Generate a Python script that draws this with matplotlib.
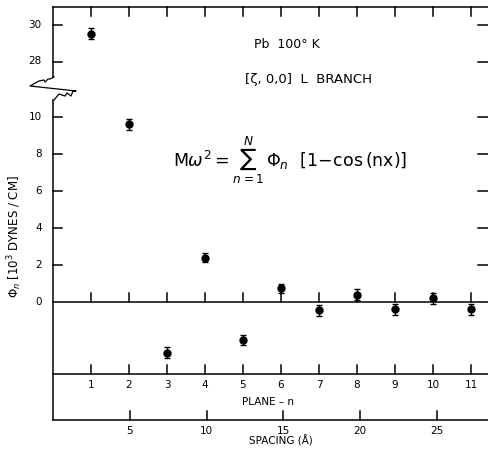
import numpy as np
import matplotlib
matplotlib.use("Agg")
import matplotlib.pyplot as plt

# force constants (units of 10^3 dynes/cm)
planes = np.arange(1, 12)
phi = [29.5, 9.6, -2.75, 2.4, -2.05, 0.75, -0.45, 0.4, -0.4, 0.2, -0.4]
phi_err = [0.3, 0.3, 0.3, 0.25, 0.25, 0.25, 0.3, 0.3, 0.3, 0.3, 0.3]

low_ticks = [0, 2, 4, 6, 8, 10]
high_ticks = [28, 30]
spacing_ticks = [5, 10, 15, 20, 25]
plane_spacing = 2.475   # angstrom per (100) plane in Pb

# broken axis: values above the break are shifted down
shift = 15.0
def yb(v):
    v = np.asarray(v, dtype=float)
    return np.where(v > 20, v - shift, v)

# pixel -> data helper for the decorations
def p2d(px, py):
    return (np.asarray(px) - 53) / 38.0, (302 - np.asarray(py)) / 18.5

fig = plt.figure(figsize=(4.88, 4.49), dpi=100)
ax = fig.add_axes([0, 0, 1, 1])
x0, y0 = p2d(0, 449)
x1, y1 = p2d(488, 0)
ax.set_xlim(x0, x1)
ax.set_ylim(y0, y1)
ax.axis("off")

lw = 1.1
k = "black"
x_axis = 0.0
y_top = p2d(0, 7)[1]
y_plane = p2d(0, 374)[1]
y_space = p2d(0, 420)[1]
y_brk_lo = p2d(0, 100)[1]
y_brk_hi = p2d(0, 77)[1]

# left axis in two pieces
ax.plot([x_axis, x_axis], [y_space, y_brk_lo], color=k, lw=lw)
ax.plot([x_axis, x_axis], [y_brk_hi, y_top], color=k, lw=lw)
# zigzag break
zx, zy = p2d([54, 50, 48, 45, 44, 39, 30, 76, 73, 71, 67, 65, 59, 54],
             [77, 79, 79, 82, 80, 81, 86, 91, 91, 96, 93, 96, 94, 100])
ax.plot(zx, zy, color=k, lw=0.9)

# top border, zero line, plane axis, spacing axis
ax.plot([x_axis, x1], [y_top, y_top], color=k, lw=lw)
ax.plot([x_axis, x1], [0, 0], color=k, lw=lw)
ax.plot([x_axis, x1], [y_plane, y_plane], color=k, lw=lw)
ax.plot([x_axis, x1], [y_space, y_space], color=k, lw=lw)

tick_len = 0.5
for p in planes:
    ax.plot([p, p], [y_top, y_top - tick_len], color=k, lw=lw)
    ax.plot([p, p], [0, tick_len], color=k, lw=lw)
    ax.plot([p, p], [y_plane, y_plane + tick_len], color=k, lw=lw)
    ax.text(p, y_plane - 0.35, str(p), ha="center", va="top", fontsize=7.5)
for s in spacing_ticks:
    xs = s / plane_spacing
    ax.plot([xs, xs], [y_space, y_space + tick_len], color=k, lw=lw)
    ax.text(xs, y_space - 0.35, str(s), ha="center", va="top", fontsize=7.5)

ax.text(5.66, p2d(0, 402)[1], "PLANE \u2013 n", ha="center", va="center", fontsize=7.5)
ax.text(6.0, p2d(0, 441)[1], "SPACING (\u00c5)", ha="center", va="center", fontsize=7.5)

# y ticks (left inward, right inward from the cut-off edge)
for v in low_ticks + high_ticks:
    yy = float(yb(v))
    if v != 0:
        ax.plot([x_axis, x_axis + 0.25], [yy, yy], color=k, lw=lw)
        ax.plot([x1 - 0.25, x1], [yy, yy], color=k, lw=lw)
    ax.text(x_axis - 0.3, yy, str(v), ha="right", va="center", fontsize=7.5)

# data
ax.errorbar(planes, yb(phi), yerr=phi_err, fmt="o", color=k, ms=5,
            capsize=2, elinewidth=1, capthick=1)

# annotations
ax.text(5.3, p2d(0, 45)[1], "Pb  100\u00b0 K", ha="left", va="center", fontsize=9)
ax.text(5.05, p2d(0, 80)[1], "[\u03b6, 0,0]  L  BRANCH", ha="left", va="center", fontsize=9.5)
ax.text(3.15, p2d(0, 160)[1],
        r"$\mathrm{M}\omega^2 = \sum_{n=1}^{N}\,\Phi_n\ \ [1\!-\!\mathrm{cos}\,(\mathrm{nx})]$",
        ha="left", va="center", fontsize=12.5)

ax.text(p2d(15, 0)[0], p2d(0, 237)[1],
        r"$\Phi_n$ [10$^3$ DYNES / CM]", rotation=90,
        ha="center", va="center", fontsize=8.5)

fig.savefig("out.png", dpi=100)
